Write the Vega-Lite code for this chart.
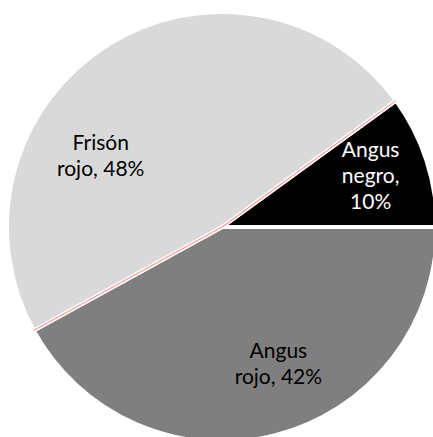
{
  "$schema": "https://vega.github.io/schema/vega-lite/v6.json",
  "width": 422,
  "height": 420,
  "autosize": {"type": "none"},
  "padding": {"left": 11, "top": 17, "right": 0, "bottom": 0},
  "background": "white",
  "config": {"view": {"stroke": null}},
  "data": {
    "values": [
      {"cat": "Angus negro", "value": 10, "ord": 1, "label": "Angus\nnegro,\n10%"},
      {"cat": "Angus rojo", "value": 42, "ord": 2, "label": "Angus\nrojo, 42%"},
      {"cat": "borde1", "value": 0, "ord": 3, "label": ""},
      {"cat": "Frisón rojo", "value": 48, "ord": 4, "label": "Frisón\nrojo, 48%"},
      {"cat": "borde2", "value": 0, "ord": 5, "label": ""}
    ]
  },
  "encoding": {
    "theta": {"field": "value", "type": "quantitative", "stack": true, "scale": {"range": [0.9425, 7.2257]}},
    "order": {"field": "ord", "type": "quantitative"}
  },
  "layer": [
    {
      "mark": {"type": "arc", "radius": 215, "stroke": "white", "strokeWidth": 4},
      "encoding": {
        "color": {
          "field": "cat", "type": "nominal", "legend": null,
          "scale": {
            "domain": ["Angus negro", "Angus rojo", "borde1", "Frisón rojo", "borde2"],
            "range": ["#000000", "#7f7f7f", "#ff9999", "#d9d9d9", "#ff9999"]
          }
        }
      }
    },
    {
      "mark": {"type": "arc", "radius": 215, "fillOpacity": 0, "stroke": "#ff9999", "strokeWidth": 1.2},
      "encoding": {
        "strokeOpacity": {"condition": {"test": "datum.value === 0", "value": 1}, "value": 0}
      }
    },
    {
      "mark": {"type": "text", "radius": 167, "thetaOffset": -0.159, "font": "Lato", "fontSize": 21, "lineHeight": 26, "lineBreak": "\n", "align": "center", "baseline": "middle", "color": "white"},
      "encoding": {
        "text": {"condition": {"test": "datum.cat === 'Angus negro'", "field": "label"}, "value": ""}
      }
    },
    {
      "mark": {"type": "text", "radius": 137, "thetaOffset": -0.173, "font": "Lato", "fontSize": 21, "lineHeight": 26, "lineBreak": "\n", "align": "center", "baseline": "middle", "color": "black"},
      "encoding": {
        "text": {"condition": {"test": "datum.cat === 'Angus rojo'", "field": "label"}, "value": ""}
      }
    },
    {
      "mark": {"type": "text", "radius": 147, "thetaOffset": -0.405, "font": "Lato", "fontSize": 21, "lineHeight": 26, "lineBreak": "\n", "align": "center", "baseline": "middle", "color": "black"},
      "encoding": {
        "text": {"condition": {"test": "datum.cat === 'Frisón rojo'", "field": "label"}, "value": ""}
      }
    }
  ]
}
